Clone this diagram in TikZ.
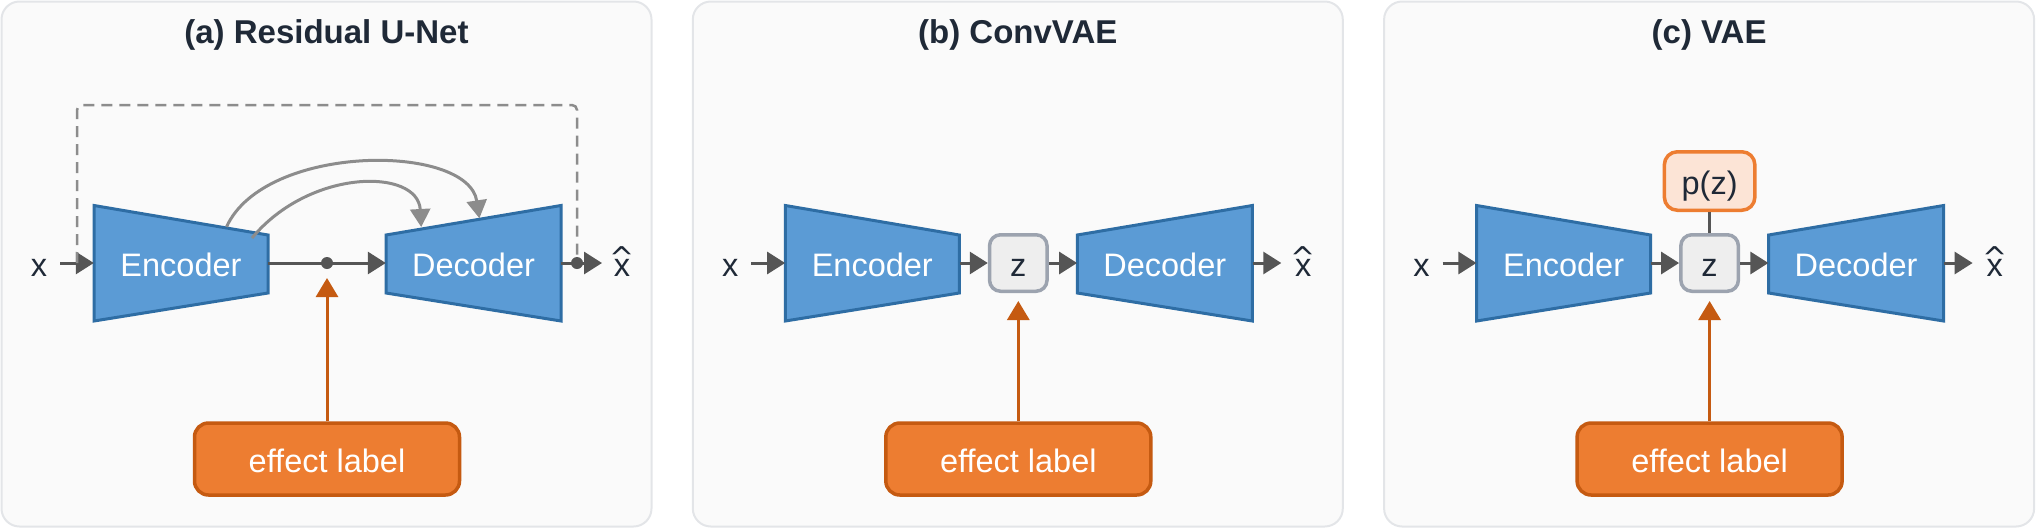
\documentclass[tikz,border=0pt]{standalone}
\usepackage{fontspec}
\setmainfont{Liberation Sans}
\newfontfamily\djv{DejaVu Sans}
\usetikzlibrary{arrows.meta}
\definecolor{panelbg}{HTML}{FAFAFA}
\definecolor{panelbd}{HTML}{E3E5E8}
\definecolor{blockfill}{HTML}{5B9BD5}
\definecolor{blockbd}{HTML}{2E6DA4}
\definecolor{arrc}{HTML}{555555}
\definecolor{skipc}{HTML}{8C8C8C}
\definecolor{efffill}{HTML}{ED7D31}
\definecolor{effbd}{HTML}{C55A11}
\definecolor{zfill}{HTML}{EEEEEE}
\definecolor{zbd}{HTML}{9CA3AF}
\definecolor{pfill}{HTML}{FCE4D6}
\definecolor{txt}{HTML}{1F2937}
\newcommand{\xhat}{\ooalign{\hfil x\hfil\cr\hfil\raisebox{7.5pt}{\djv\fontsize{30}{34}\selectfont\char94}\hfil}}
\tikzset{
  panel/.style={draw=panelbd, line width=2pt, fill=panelbg, rounded corners=18pt},
  block/.style={draw=blockbd, line width=3pt, fill=blockfill, line join=miter},
  lbl/.style={font=\fontsize{32.5}{38}\selectfont, text=white, inner sep=0pt, text height=26pt, text depth=0pt},
  var/.style={font=\fontsize{32.5}{38}\selectfont, text=txt, inner sep=0pt, text height=26pt, text depth=0pt},
  flow/.style={draw=arrc, line width=3pt, -{Triangle[length=18pt,width=22pt]}},
  skiparrow/.style={draw=skipc, line width=3pt, -{Triangle[length=18pt,width=20pt]}},
  resid/.style={draw=skipc, line width=2.5pt, dash pattern=on 11pt off 7pt, rounded corners=5pt},
  effect/.style={draw=effbd, line width=3.5pt, fill=efffill, rounded corners=14pt,
    minimum width=265pt, minimum height=72pt, lbl},
  effarrow/.style={draw=effbd, line width=3pt, -{Triangle[length=19pt,width=22pt]}},
  zbox/.style={draw=zbd, fill=zfill, line width=3.5pt, rounded corners=11pt,
    minimum width=57.5pt, minimum height=56.5pt, var},
  pbox/.style={draw=efffill, fill=pfill, line width=3.5pt, rounded corners=13pt,
    minimum width=90.5pt, minimum height=58.5pt, var},
  ptitle/.style={font=\bfseries\fontsize{33}{38}\selectfont, text=txt, inner sep=0pt, anchor=base},
  dotn/.style={circle, fill=arrc, minimum size=12pt, inner sep=0pt},
  hold/.style={inner sep=0pt, minimum width=174pt, minimum height=116pt, lbl}
}
\begin{document}
\begin{tikzpicture}[x=1pt,y=-1pt]
\useasboundingbox (0,0) rectangle (2037,528);

% ---------------- Panel (a) ----------------
\draw[panel] (1.5,1.5) rectangle (651.5,526.5);
\node[ptitle] (tA) at (326.5,43.3) {(a) Residual U-Net};
\draw[block] (94,205.5) -- (268,235) -- (268,293) -- (94,321) -- cycle;
\draw[block] (386,235) -- (561,205.5) -- (561,321) -- (386,293) -- cycle;
\node[hold] (encA) at (181,263) {Encoder};
\node[hold, minimum width=175pt] (decA) at (473.5,263) {Decoder};
\node[var] (xA) at (39,263) {x};
\node[var] (xhA) at (622,263) {\xhat};
\coordinate (inA) at (60,263);
\coordinate (outA) at (602,263);
\coordinate (rsA) at (77,263);
\draw[flow] (inA) -- (encA.west);
\draw[flow] (encA.east) -- (decA.west);
\node[dotn] (dotA) at (327,263) {};
\draw[resid] (rsA) -- (77,105) -| (577,263);
\draw[flow] (decA.east) -- (outA);
\node[dotn] (dotOA) at (577,263) {};
\coordinate (s1) at (226.6,226.7);
\coordinate (e1) at (479.4,218.3);
\coordinate (s2) at (252,238);
\coordinate (e2) at (421.2,227);
\draw[skiparrow] (s1) .. controls (265,143) and (468,143) .. (e1);
\draw[skiparrow] (s2) .. controls (310,168) and (418,168) .. (e2);
\node[effect] (effA) at (327,459) {effect label};
\coordinate (tipA) at (327,278);
\draw[effarrow] (effA.north) -- (tipA);

% ---------------- Panel (b) ----------------
\begin{scope}[xshift=691.3pt]
\draw[panel] (1.5,1.5) rectangle (651.5,526.5);
\node[ptitle] (tB) at (326.5,43.3) {(b) ConvVAE};
\draw[block] (94,205.5) -- (268,235) -- (268,293) -- (94,321) -- cycle;
\draw[block] (386,235) -- (561,205.5) -- (561,321) -- (386,293) -- cycle;
\node[hold] (encB) at (181,263) {Encoder};
\node[hold, minimum width=175pt] (decB) at (473.5,263) {Decoder};
\node[zbox] (zB) at (327,263) {z};
\node[var] (xB) at (39,263) {x};
\node[var] (xhB) at (612,263) {\xhat};
\coordinate (inB) at (60,263);
\coordinate (outB) at (590,263);
\draw[flow] (inB) -- (encB.west);
\draw[flow] (encB.east) -- (zB.west);
\draw[flow] (zB.east) -- (decB.west);
\draw[flow] (decB.east) -- (outB);
\node[effect] (effB) at (327,459) {effect label};
\draw[effarrow, shorten >=8pt] (effB.north) -- (zB.south);
\end{scope}

% ---------------- Panel (c) ----------------
\begin{scope}[xshift=1382.6pt]
\draw[panel] (1.5,1.5) rectangle (651.5,526.5);
\node[ptitle] (tC) at (326.5,43.3) {(c) VAE};
\draw[block] (94,205.5) -- (268,235) -- (268,293) -- (94,321) -- cycle;
\draw[block] (386,235) -- (561,205.5) -- (561,321) -- (386,293) -- cycle;
\node[hold] (encC) at (181,263) {Encoder};
\node[hold, minimum width=175pt] (decC) at (473.5,263) {Decoder};
\node[zbox] (zC) at (327,263) {z};
\node[pbox] (pC) at (327,181) {p(z)};
\node[var] (xC) at (39,263) {x};
\node[var] (xhC) at (612,263) {\xhat};
\coordinate (inC) at (60,263);
\coordinate (outC) at (590,263);
\draw[flow] (inC) -- (encC.west);
\draw[flow] (encC.east) -- (zC.west);
\draw[flow] (zC.east) -- (decC.west);
\draw[flow] (decC.east) -- (outC);
\draw[draw=arrc, line width=3.5pt] (pC.south) -- (zC.north);
\node[effect] (effC) at (327,459) {effect label};
\draw[effarrow, shorten >=8pt] (effC.north) -- (zC.south);
\end{scope}
\end{tikzpicture}
\end{document}
